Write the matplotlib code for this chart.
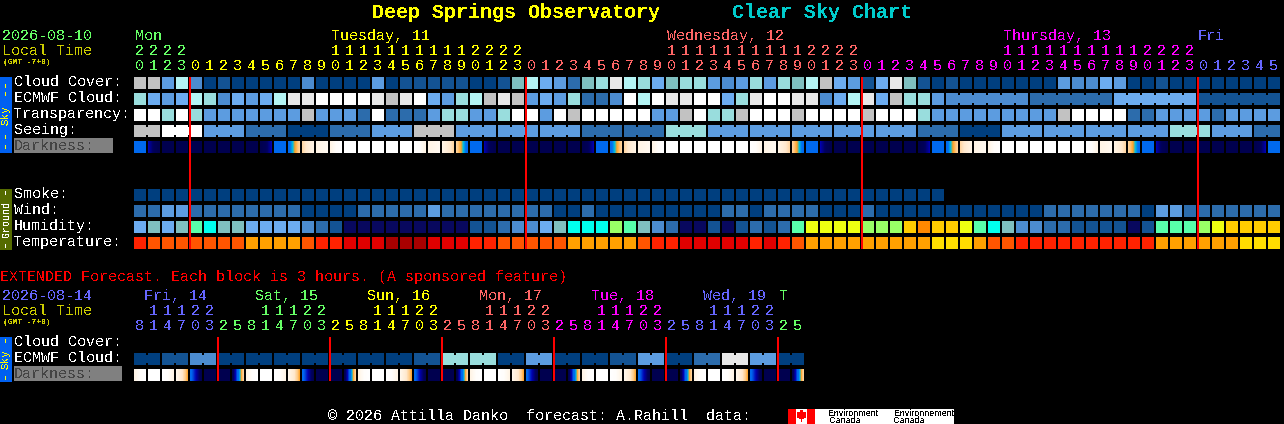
"""Clear sky chart for Deep Springs Observatory, drawn on a pixel sized axes."""

import matplotlib

matplotlib.use("Agg")
import matplotlib.pyplot as plt
import numpy as np
from matplotlib.colors import LinearSegmentedColormap
from matplotlib.patches import Polygon

# one letter per block, see SKY_COLORS / GROUND_COLORS
cloud_cover = "lleidabaaa" "aadaaaaeab" "bbbbaabgif" "ecghjihfgh" "hedehehgil" "febfjgbaba" "aaaaaaeddf" "eaabaaaaaa" "aa"
ecmwf_cloud = "hfefihdfef" "ijjkkkkjlj" "kfehiljlef" "ehccdkikjj" "kkfhjkkjjd" "fijflhhedd" "ddddcccccc" "ffffffbbbb" "bb"
transparency = "kkhkheeeee" "eeleeeckcc" "cehheehkke" "klkkkkkeel" "khhlkkklkk" "kklkkkheee" "eeeeeelkkk" "kcceeeecee" "ee"
seeing = "llkkkeeecc" "caaaccceee" "llleeeeeee" "eecccccchh" "heeeeeeeee" "eeeeeeccca" "aaeeeeeeee" "eeeehhheee" "cc"
smoke = "aaaaaaaaaa" "aaaaaaaaaa" "aaaaaaaaaa" "aaaaaaaaaa" "aaaaaaaaaa" "aaaaaaaa"
wind = "cceecccccc" "ccaaaacccc" "cecccccccc" "aacaaaaaaa" "aaccacccca" "aacaaaaaaa" "aaaaaccccc" "ccaeeccccc" "cc"
humidity = "fgfgmtggff" "ffdcbnnnnn" "nnnnbbcddf" "gtttvmgdcn" "nbnbcbcmyy" "yyvvvorooy" "mtgddccbbb" "bnbmmmvyoo" "oo"
temperature = "ROOOOOOOAA" "AAORRDDDEE" "EDDDRROOOO" "OAAAAAORRD" "DDDDRDROAA" "AAAAAAAYYY" "AOORRRRRRR" "RRRAAAAAAY" "YY"
darkness = "BDNNNNNNNUBTPQWXXXXXVQYS" "BDNNNNNNUBTPQWXXXXXXVQYS" "BDNNNNNNUBTPQWXXXXXXVQYS" "BDNNNNNNUB"

ext_ecmwf = "aabbddaaaa" "aaaaaaaaaa" "bbhhhhaaee" "aaaabbeeaa" "ccjjeeaa"
ext_darkness = "WXVZENNF" "WXVZENNF" "WXVZENNF" "WXVZENNF" "WXVZENNF" "WXVZENNF"

# blocks that are merged into one run
ecmwf_groups = [1] * 58 + [6, 6, 6, 6]
seeing_groups = [2] + [3] * 26 + [2]
ext_groups = [2] * 24

hours = [20, 21, 22, 23] + list(range(24)) * 3 + list(range(6))
hour_days = [0] * 4 + [1] * 24 + [2] * 24 + [3] * 24 + [4] * 6
ext_hours = [8, 11, 14, 17, 20, 23] + [2, 5, 8, 11, 14, 17, 20, 23] * 5 + [2, 5]
ext_days = [4] * 6 + [0] * 8 + [1] * 8 + [2] * 8 + [3] * 8 + [4] * 8 + [0] * 2

day_labels = ["Mon", "Tuesday, 11", "Wednesday, 12", "Thursday, 13", "Fri"]
day_label_days = [0, 1, 2, 3, 4]
day_label_x = [135, 331, 667, 1003, 1198]
ext_labels = ["Fri, 14", "Sat, 15", "Sun, 16", "Mon, 17", "Tue, 18", "Wed, 19", "T"]
ext_label_days = [4, 0, 1, 2, 3, 4, 0]
ext_label_x = [144, 255, 367, 479, 591, 703, 779]

SKY_COLORS = {
    "a": "#003f7f", "b": "#135393", "c": "#2c6cac", "d": "#4c8cd0", "e": "#5c9ce0", "f": "#6cacf0",
    "g": "#7fbfbf", "h": "#99dddd", "i": "#b4f4f4", "j": "#e8e8e8", "k": "#ffffff", "l": "#c2c2c2",
}
GROUND_COLORS = {
    "a": "#003f7f", "b": "#135393", "c": "#2c6cac", "d": "#4c8cd0", "e": "#5c9ce0", "f": "#6cacf0",
    "g": "#7fbfbf", "n": "#08085e", "m": "#58ffaa", "t": "#00ffee", "v": "#99ff66", "y": "#eeff11",
    "o": "#ffcc00", "r": "#ff8800", "R": "#ff2200", "O": "#ff5500", "A": "#ffa000", "Y": "#ffdd00",
    "D": "#e00000", "E": "#a80000",
}
DAY_COLORS = ["#66ff66", "#ffff00", "#ff6666", "#ff00ff", "#6666ff"]

# brightness at left, middle and right of a darkness block
DARK_RAMPS = {
    "N": (0.0, 0.0, 0.0), "U": (0.0, 0.03, 0.13), "D": (0.13, 0.03, 0.0), "B": (0.25, 0.25, 0.25),
    "T": (0.25, 0.42, 0.6), "S": (0.6, 0.42, 0.25), "P": (0.62, 0.75, 0.85), "Y": (0.85, 0.75, 0.62),
    "Q": (0.85, 0.88, 0.92), "W": (0.85, 0.97, 1.0), "V": (1.0, 0.97, 0.85), "X": (1.0, 1.0, 1.0),
    "Z": (0.88, 0.72, 0.47), "E": (0.25, 0.13, 0.0), "F": (0.0, 0.25, 0.6),
}
dark_cmap = LinearSegmentedColormap.from_list("darkness", [
    (0.0, "#00004f"), (0.05, "#000060"), (0.13, "#0000b0"), (0.22, "#0066ee"), (0.3, "#0070f0"),
    (0.38, "#00c0e0"), (0.45, "#ffa020"), (0.55, "#ffc880"), (0.7, "#ffe8cc"), (0.9, "#fff8ee"), (1.0, "#ffffff"),
])

LEFT = 134
PITCH = 14
BLOCK = 12
MONO = "Liberation Mono"

plt.rcParams["text.antialiased"] = False

fig = plt.figure(figsize=(12.84, 4.24), dpi=100, facecolor="black")
ax = fig.add_axes([0, 0, 1, 1])
ax.set_facecolor("black")
ax.axis("off")


def label(x, y, text, color="white", px=15, **kwargs):
    kwargs.setdefault("ha", "left")
    kwargs.setdefault("va", "center")
    ax.text(x, y + 1, text, color=color, fontsize=px * 0.72, family=MONO, **kwargs)


def draw_row(values, y, palette, groups=None):
    xs = LEFT + PITCH * np.arange(len(values))
    ax.bar(xs, BLOCK, width=BLOCK, bottom=y, align="edge", color=[palette[v] for v in values],
           linewidth=0, antialiased=False)
    if groups is None:
        return
    col = 0
    for size in groups:
        for i in range(col, col + size - 1):
            ax.bar(xs[i] + BLOCK, BLOCK - 4, width=PITCH - BLOCK, bottom=y + 2, align="edge",
                   color=palette[values[i]], linewidth=0, antialiased=False)
        col += size


def draw_darkness(values, y):
    for i, kind in enumerate(values):
        x = LEFT + PITCH * i
        ramp = np.interp(np.linspace(0, 2, BLOCK), [0, 1, 2], DARK_RAMPS[kind])
        ax.imshow(ramp[np.newaxis, :], cmap=dark_cmap, vmin=0, vmax=1, aspect="auto",
                  interpolation="nearest", extent=(x, x + BLOCK, y + BLOCK, y))


def draw_hours(values, days, y_tens, y_ones):
    for i, (hour, day) in enumerate(zip(values, days)):
        x = LEFT + PITCH * i + 5.5
        if hour >= 10:
            label(x, y_tens, str(hour // 10), DAY_COLORS[day], ha="center")
        label(x, y_ones, str(hour % 10), DAY_COLORS[day], ha="center")


def draw_midnights(values, top, bottom):
    for i in range(1, len(values)):
        if values[i] < values[i - 1]:
            ax.bar(LEFT + PITCH * i - 1, bottom - top, width=2, bottom=top, align="edge",
                   color="#ff0000", linewidth=0, antialiased=False)


def draw_tab(top, height, color, text_color, text, text_y, dash_tops, px, **kwargs):
    ax.bar(0, height, width=12, bottom=top, align="edge", color=color, linewidth=0, antialiased=False)
    label(6, text_y, text, text_color, px=px, rotation=90, ha="center", **kwargs)
    for dash in dash_tops:
        ax.bar(5, 4, width=1, bottom=dash, align="edge", color=text_color, linewidth=0, antialiased=False)


# title
label(372, 11, "Deep Springs Observatory", "#ffff00", px=20, fontweight="bold")
label(732, 11, "Clear Sky Chart", "#00cccc", px=20, fontweight="bold")

# main chart header
label(2, 35, "2026-08-10", DAY_COLORS[0])
label(2, 50, "Local Time", "#cccc00")
label(3, 61, "(GMT -7+0)", "#cccc00", px=8, fontweight="bold")
for x, text, day in zip(day_label_x, day_labels, day_label_days):
    label(x, 35, text, DAY_COLORS[day])
draw_hours(hours, hour_days, 50, 65)

# main chart rows
for y, text in zip([81, 97, 113, 129], ["Cloud Cover:", "ECMWF Cloud:", "Transparency:", "Seeing:"]):
    label(14, y, text)
ax.bar(14, 15, width=99, bottom=138, align="edge", color="#808080", linewidth=0, antialiased=False)
label(14, 145, "Darkness:", "#444444")
for y, text in zip([193, 209, 225, 241], ["Smoke:", "Wind:", "Humidity:", "Temperature:"]):
    label(14, y, text)

draw_row(cloud_cover, 77, SKY_COLORS)
draw_row(ecmwf_cloud, 93, SKY_COLORS, ecmwf_groups)
draw_row(transparency, 109, SKY_COLORS)
draw_row(seeing, 125, SKY_COLORS, seeing_groups)
draw_darkness(darkness, 141)
draw_row(smoke, 189, GROUND_COLORS)
draw_row(wind, 205, GROUND_COLORS)
draw_row(humidity, 221, GROUND_COLORS)
draw_row(temperature, 237, GROUND_COLORS)
draw_midnights(hours, 77, 249)

# side tabs
draw_tab(77, 76, "#0060f0", "#ffff00", "Sky", 114, [84, 92, 135, 145], 11)
draw_tab(189, 61, "#556b00", "#ffffff", "Ground", 218, [191, 244], 10)
draw_tab(337, 45, "#0060f0", "#ffff00", "Sky", 358, [339, 376], 11)

# extended forecast
label(0, 276, "EXTENDED Forecast. Each block is 3 hours. (A sponsored feature)", "#ff0000")
label(2, 295, "2026-08-14", DAY_COLORS[4])
label(2, 310, "Local Time", "#cccc00")
label(3, 321, "(GMT -7+0)", "#cccc00", px=8, fontweight="bold")
for x, text, day in zip(ext_label_x, ext_labels, ext_label_days):
    label(x, 295, text, DAY_COLORS[day])
draw_hours(ext_hours, ext_days, 310, 325)

label(14, 341, "Cloud Cover:")
label(14, 357, "ECMWF Cloud:")
ax.bar(14, 15, width=108, bottom=366, align="edge", color="#808080", linewidth=0, antialiased=False)
label(14, 373, "Darkness:", "#444444")
draw_row(ext_ecmwf, 353, SKY_COLORS, ext_groups)
draw_darkness(ext_darkness, 369)
draw_midnights(ext_hours, 337, 381)

# footer
label(328, 415, "\u00a9 2026 Attilla Danko  forecast: A.Rahill  data:")
ax.bar(796, 15, width=158, bottom=409, align="edge", color="white", linewidth=0, antialiased=False)
ax.bar(788, 15, width=8, bottom=409, align="edge", color="#ff0000", linewidth=0, antialiased=False)
ax.bar(807, 15, width=8, bottom=409, align="edge", color="#ff0000", linewidth=0, antialiased=False)
ax.add_patch(Polygon([(801.5, 410), (803.5, 413), (806, 412.5), (805, 416), (806, 417), (802, 419), (802, 422),
                      (801, 422), (801, 419), (797, 417), (798, 416), (797, 412.5), (799.5, 413)],
                     color="#ff0000", linewidth=0, antialiased=False))
for x, y, text in [(828, 413, "Environment"), (829, 420.5, "Canada"), (894, 413, "Environnement"), (894, 420.5, "Canada")]:
    ax.text(x, y, text, color="black", fontsize=6.4, family="Liberation Sans", ha="left", va="center")

ax.set_xlim(0, 1284)
ax.set_ylim(424, 0)
fig.savefig("out.png", dpi=100, facecolor="black")
